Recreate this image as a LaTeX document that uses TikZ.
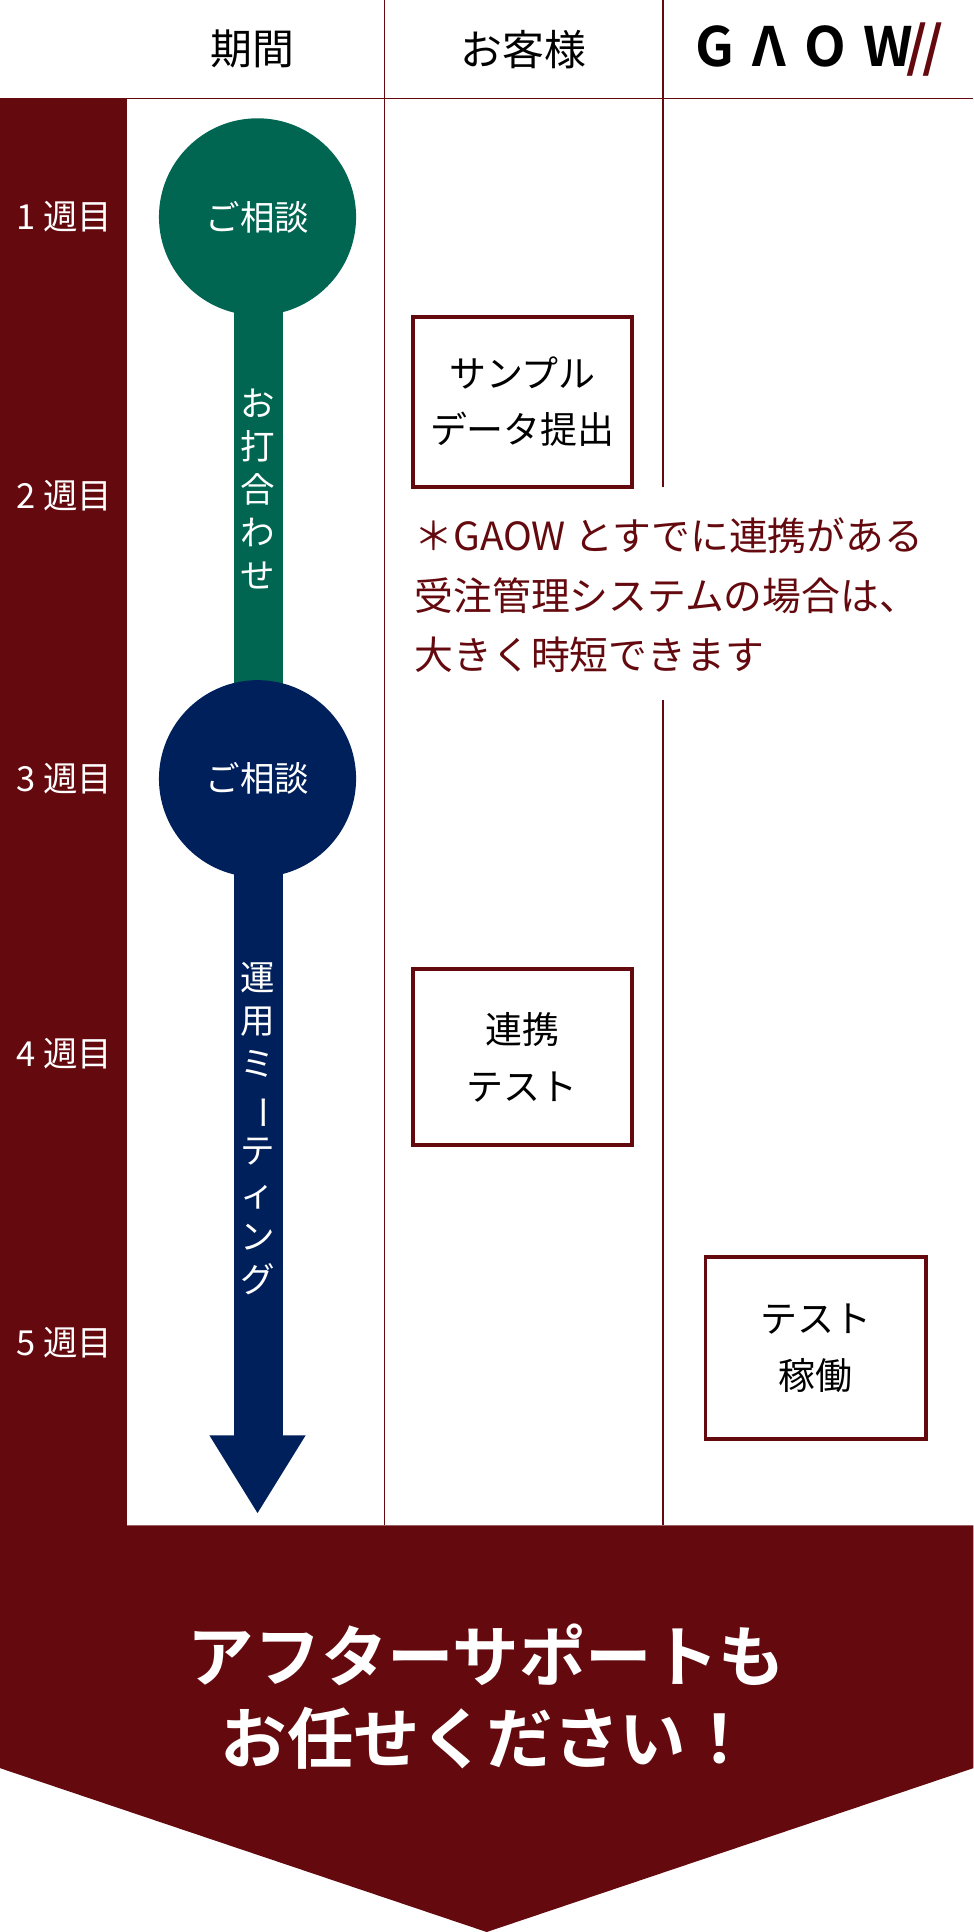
\documentclass[tikz,border=0pt]{standalone}
\usepackage{fontspec}
\setmainfont{Noto Sans CJK JP}
\newfontfamily\boldjp{Noto Sans CJK JP Bold}
\usepackage{graphicx}
\definecolor{gaowred}{HTML}{640A0F}
\definecolor{talkgreen}{HTML}{006651}
\definecolor{talknavy}{HTML}{00205B}

\begin{document}
\begin{tikzpicture}[x=1pt,y=-1pt,
    weeklabel/.style={text=white,font=\fontsize{28}{30}\selectfont},
    headlabel/.style={font=\fontsize{34}{36}\selectfont},
    talk/.style={circle,minimum size=160pt,inner sep=0pt,text=white,font=\fontsize{28}{30}\selectfont},
    taskbox/.style={draw=gaowred,line width=3pt,align=center,font=\fontsize{30}{46}\selectfont},
    vtext/.style={text=white,align=center,font=\fontsize{28}{35}\selectfont},
    divider/.style={draw=gaowred,line width=1.5pt}]

\useasboundingbox (0,0) rectangle (790,1568);
\fill[white] (0,0) rectangle (790,1568);

% frame and columns
\fill[gaowred] (0,80) rectangle (103,1240);
\fill[gaowred] (0,1238) -- (790,1238) -- (790,1435) -- (395,1568) -- (0,1435) -- cycle;
\draw[divider] (0,80) -- (790,80);
\draw[divider] (312,0) -- (312,1238);
\draw[divider] (538,0) -- (538,395);
\draw[divider] (538,568) -- (538,1238);

% header
\node[headlabel] (hperiod) at (205,40) {期間};
\node[headlabel] (hclient) at (425,40) {お客様};
\node[font=\boldjp\fontsize{44}{46}\selectfont] (hgaow) at (665,40) {G\,\,Λ\,\,O\,\,W\kern-6pt\textcolor{gaowred}{/\kern-4pt/}};

% weeks
\foreach \w/\y in {1/176,2/402,3/632,4/855,5/1090}
  \node[weeklabel] (week\w) at (52,\y) {\w\ 週目};

% timeline
\fill[talkgreen] (190,240) rectangle (230,560);
\fill[talknavy] (190,690) rectangle (230,1166);
\fill[talknavy] (170,1165) -- (248,1165) -- (209,1228) -- cycle;
\node[talk,fill=talkgreen] (talk1) at (209,176) {ご相談};
\node[talk,fill=talknavy] (talk2) at (209,632) {ご相談};
\node[vtext] (meet1) at (209,397) {お\\打\\合\\わ\\せ};
\node[vtext] (meet2) at (209,916) {運\\用\\ミ\\\rotatebox[origin=c]{-90}{ー}\\テ\\ィ\\ン\\グ};

% tasks
\node[taskbox,minimum width=178pt,minimum height=138pt] (sample) at (424,326) {サンプル\\データ提出};
\node[taskbox,minimum width=178pt,minimum height=143pt] (linktest) at (424,858) {連携\\テスト};
\node[taskbox,minimum width=179pt,minimum height=148pt] (trial) at (662,1094) {テスト\\稼働};

% note
\node[anchor=north west,text=gaowred,align=left,font=\fontsize{31.5}{48}\selectfont] (note) at (333,417)
  {＊GAOW とすでに連携がある\\受注管理システムの場合は、\\大きく時短できます};

% banner
\node[text=white,align=center,font=\boldjp\fontsize{54}{66}\selectfont] (support) at (395,1377)
  {アフターサポートも\\お任せください！};

\end{tikzpicture}
\end{document}
